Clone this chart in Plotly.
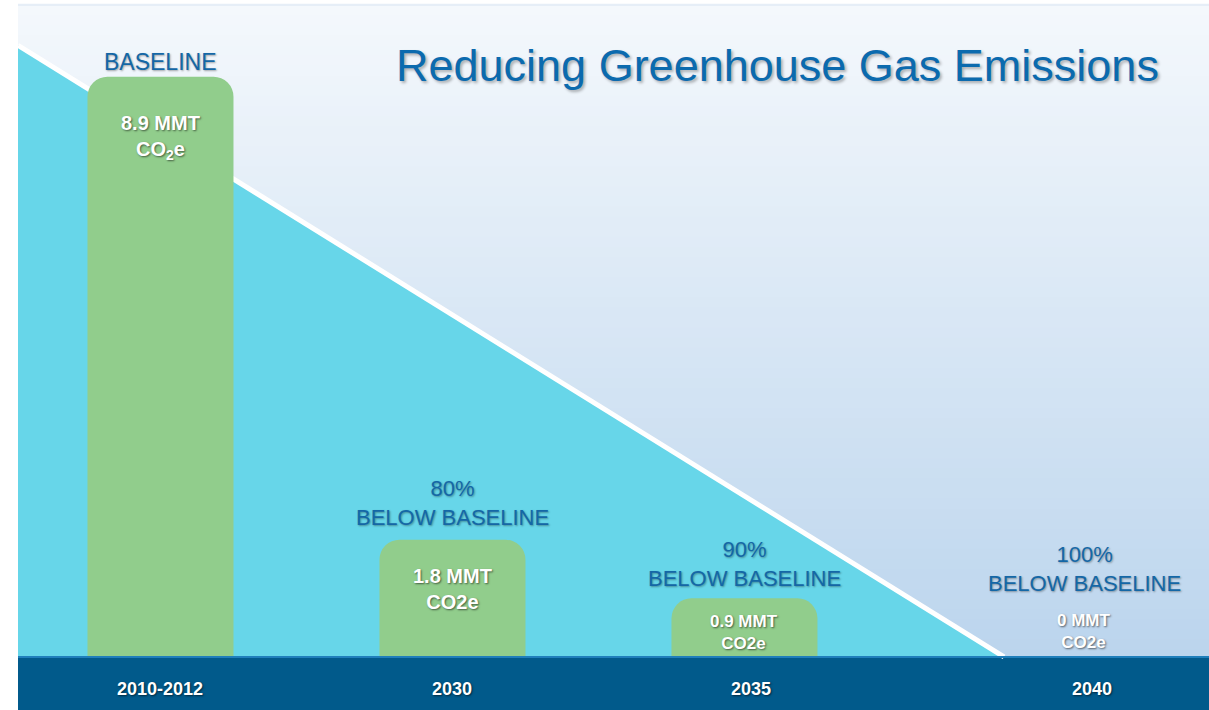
import plotly.graph_objects as go

# ---- data ----
categories = ["2010-2012", "2030", "2035", "2040"]
emissions_mmt = [8.9, 1.8, 0.9, 0.0]
value_labels = ["8.9 MMT<br>CO<sub>2</sub>e", "1.8 MMT<br>CO2e", "0.9 MMT<br>CO2e", "0 MMT<br>CO2e"]
target_labels = ["BASELINE", "80%<br>BELOW BASELINE", "90%<br>BELOW BASELINE", "100%<br>BELOW BASELINE"]
title_text = "Reducing Greenhouse Gas Emissions"
# decorative reduction path (start at the left edge, reaches zero near 2040)
path_x = [-0.488, 2.889]
path_y = [9.38, 0.0]

# ---- styles ----
W, H = 1209, 710
ML, MR, MT, MB = 18, 0, 5, 0
x_range = [-0.488, 3.591]
y_range = [-0.813, 10.0]
cyan = "#67d6e9"
band = "#015a8b"
bar_green = "#91cd8c"
label_blue = "#1467a6"
title_blue = "#0b6aae"
group_xshift = [0, 0, 0, 48]
year_xshift = [0, 0, 7, 56]
value_yshift = [-61, -49, -34, 25]
value_size = [20, 20, 17, 17]
target_yshift = [15, 37, 34, 88]
target_size = [23, 22, 22, 22]

xs = list(range(len(categories)))

fig = go.Figure()

# bars
fig.add_trace(go.Bar(
    x=xs, y=emissions_mmt, width=0.5,
    marker=dict(color=bar_green, line=dict(width=0)),
    hoverinfo="skip", showlegend=False))

# background gradient strips
shapes = []
N = 70
top_rgb = (0xf4, 0xf8, 0xfc)
bot_rgb = (0xb7, 0xd2, 0xec)
for i in range(N):
    t = i / (N - 1)
    c = tuple(int(round(bot_rgb[k] + (top_rgb[k] - bot_rgb[k]) * t)) for k in range(3))
    shapes.append(dict(type="rect", xref="paper", yref="paper",
                       x0=0, x1=1, y0=i / N, y1=(i + 1) / N + 0.002,
                       fillcolor="rgb(%d,%d,%d)" % c, line=dict(width=0), layer="below"))
# thin top border
shapes.append(dict(type="line", xref="paper", yref="paper", x0=0, x1=1, y0=1, y1=1,
                   line=dict(color="#e6eef7", width=2), layer="below"))
# bottom band
shapes.append(dict(type="rect", xref="paper", yref="y", x0=0, x1=1, y0=y_range[0] - 0.1, y1=0,
                   fillcolor=band, line=dict(width=0), layer="below"))
# cyan reduction wedge (below the bars)
wedge_path = "M %f,%f L %f,%f L %f,%f Z" % (path_x[0], path_y[0], path_x[1], path_y[1], path_x[0], 0.0)
shapes.append(dict(type="path", xref="x", yref="y", path=wedge_path,
                   fillcolor=cyan, line=dict(width=0), layer="below"))
shapes.append(dict(type="line", xref="x", yref="y", x0=path_x[0], y0=path_y[0],
                   x1=path_x[1], y1=path_y[1], line=dict(color="white", width=5), layer="below"))
# left edge of wedge
shapes.append(dict(type="line", xref="paper", yref="y", x0=0.001, x1=0.001, y0=0, y1=path_y[0],
                   line=dict(color="#22b8d8", width=2), layer="below"))
shapes.append(dict(type="line", xref="paper", yref="y", x0=0, x1=1, y0=0, y1=0,
                   line=dict(color="#1f7fbb", width=2), layer="above"))

annotations = []
annotations.append(dict(text=title_text, xref="paper", yref="paper", x=0.638, y=0.914,
                        xanchor="center", yanchor="middle", showarrow=False,
                        font=dict(family="Liberation Sans, Arial, sans-serif", size=45,
                                  color=title_blue, shadow="2px 2px 3px rgba(0,0,0,0.30)")))
white_shadow = "1px 1px 2px rgba(0,0,0,0.55)"
for i, x in enumerate(xs):
    annotations.append(dict(text="<b>%s</b>" % value_labels[i], x=x, y=emissions_mmt[i],
                            xref="x", yref="y", xanchor="center", yanchor="middle",
                            xshift=group_xshift[i], yshift=value_yshift[i], showarrow=False,
                            font=dict(family="Liberation Sans, Arial, sans-serif",
                                      size=value_size[i], color="white", shadow=white_shadow)))
    annotations.append(dict(text=target_labels[i], x=x, y=emissions_mmt[i],
                            xref="x", yref="y", xanchor="center", yanchor="middle",
                            xshift=group_xshift[i], yshift=target_yshift[i], showarrow=False,
                            font=dict(family="Liberation Sans, Arial, sans-serif",
                                      size=target_size[i], color=label_blue,
                                      shadow="1px 1px 2px rgba(0,0,0,0.35)")))
    annotations.append(dict(text="<b>%s</b>" % categories[i], x=x, y=0,
                            xref="x", yref="y", xanchor="center", yanchor="middle",
                            xshift=year_xshift[i], yshift=-32, showarrow=False,
                            font=dict(family="Liberation Sans, Arial, sans-serif",
                                      size=18, color="white", shadow=white_shadow)))

fig.update_layout(
    width=W, height=H,
    margin=dict(l=ML, r=MR, t=MT, b=MB, pad=0),
    paper_bgcolor="white", plot_bgcolor="rgba(0,0,0,0)",
    barcornerradius=20,
    xaxis=dict(range=x_range, visible=False, fixedrange=True),
    yaxis=dict(range=y_range, visible=False, fixedrange=True),
    shapes=shapes, annotations=annotations,
    showlegend=False,
)

fig.write_html("out.html", config={"displayModeBar": False},
               post_script="document.body.style.margin='0';")
